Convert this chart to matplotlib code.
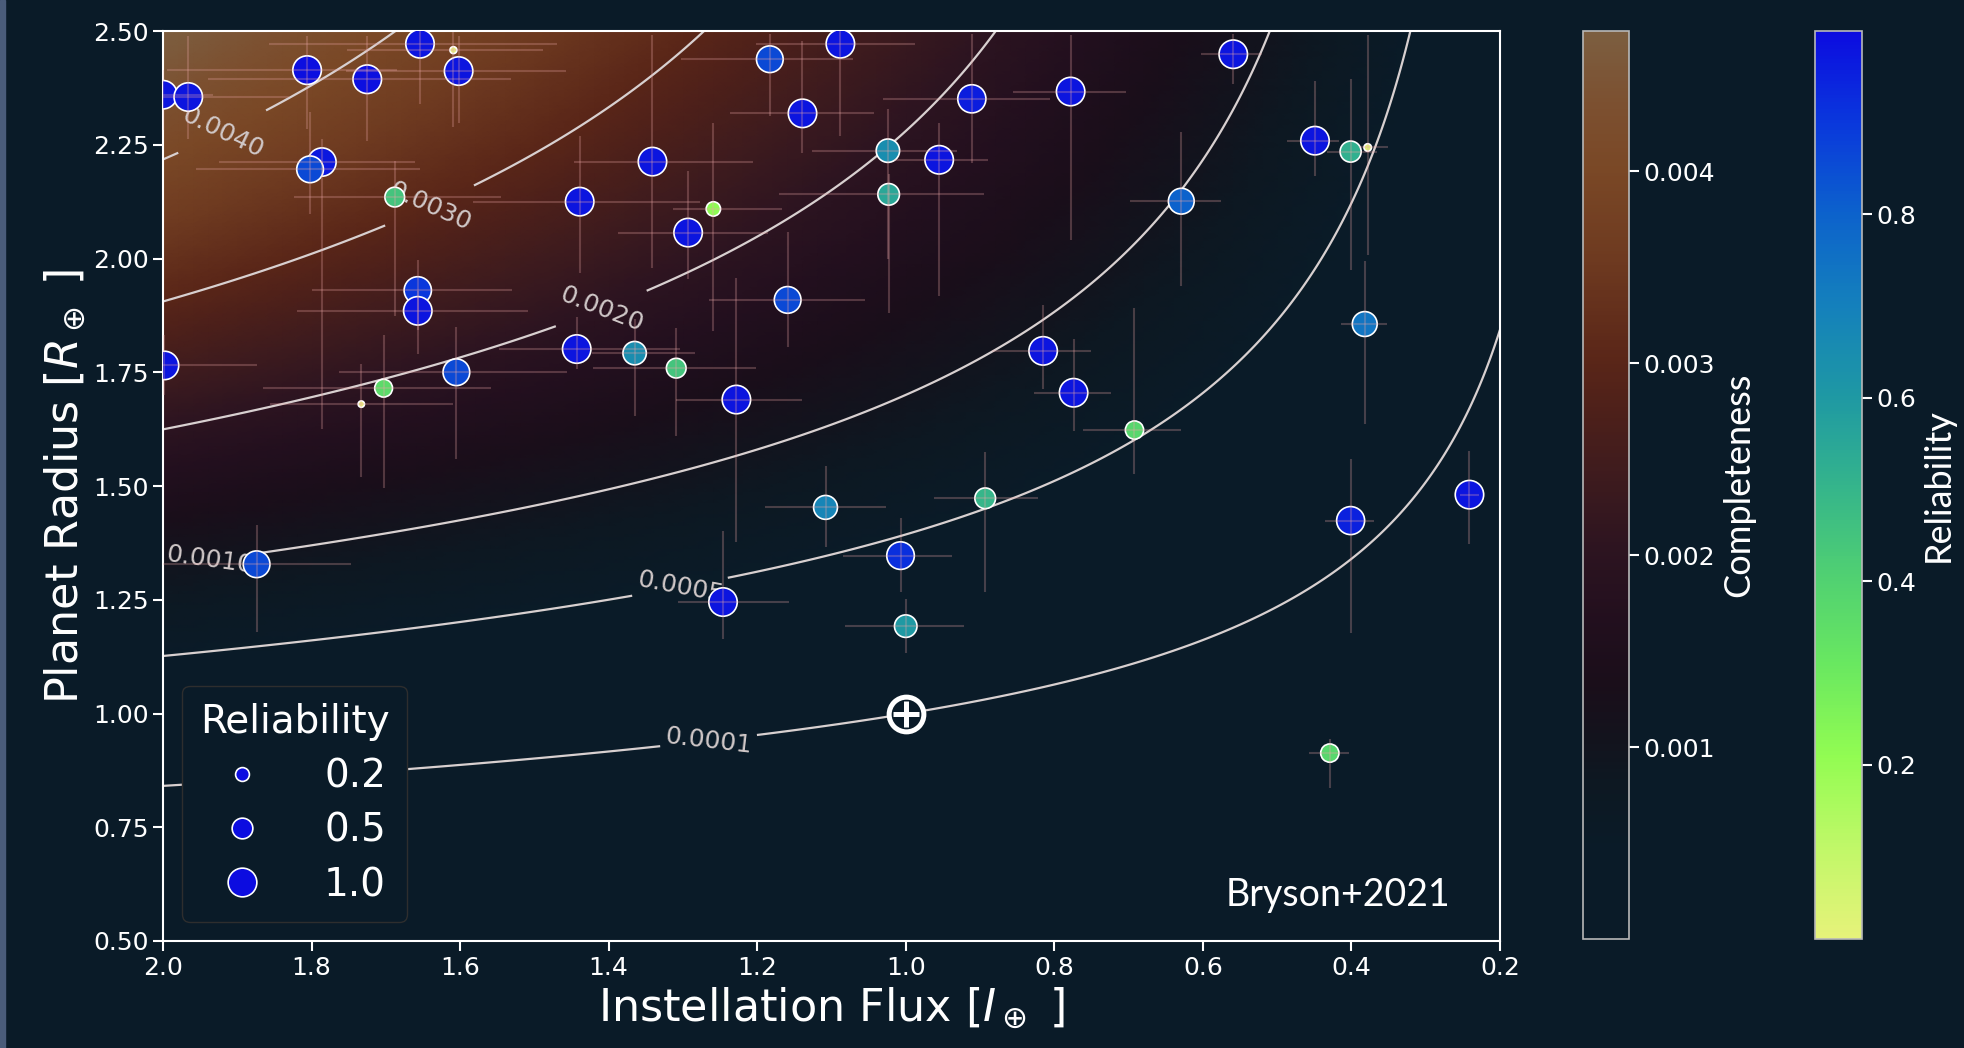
import math
import numpy as np
import matplotlib
matplotlib.use("Agg")
import matplotlib.pyplot as plt
from matplotlib.colors import LinearSegmentedColormap
from matplotlib.lines import Line2D
from matplotlib.patches import Rectangle
from matplotlib.ticker import FormatStrFormatter

BG = "#0a1b28"

# planet candidates
flux = [2.000, 1.966, 1.806, 1.725, 1.654, 1.609, 1.602, 1.786, 1.802, 1.688,
        1.439, 1.341, 1.657, 1.657, 1.998, 1.703, 1.733, 1.605, 1.443, 1.365,
        1.309, 1.183, 1.088, 1.139, 1.259, 1.293, 1.024, 0.955, 1.023, 0.911,
        0.778, 0.629, 1.159, 1.228, 0.815, 0.774, 0.692, 0.559, 0.449, 0.401,
        0.378, 0.382, 1.874, 1.108, 0.893, 1.007, 1.246, 1.000, 0.401, 0.241,
        0.429]
flux_err_lo = [0.067, 0.135, 0.121, 0.193, 0.185, 0.121, 0.145, 0.125, 0.148, 0.143,
               0.162, 0.135, 0.127, 0.149, 0.125, 0.145, 0.123, 0.149, 0.139, 0.081,
               0.108, 0.112, 0.101, 0.096, 0.093, 0.108, 0.093, 0.066, 0.128, 0.105,
               0.074, 0.054, 0.104, 0.089, 0.065, 0.050, 0.063, 0.039, 0.032, 0.035,
               0.028, 0.030, 0.127, 0.081, 0.071, 0.069, 0.089, 0.079, 0.032, 0.013,
               0.026]
flux_err_hi = [0.054, 0.054, 0.189, 0.214, 0.203, 0.143, 0.151, 0.139, 0.154, 0.136,
               0.143, 0.106, 0.143, 0.163, 0.054, 0.162, 0.123, 0.158, 0.105, 0.057,
               0.112, 0.120, 0.114, 0.098, 0.054, 0.094, 0.102, 0.061, 0.147, 0.119,
               0.078, 0.069, 0.106, 0.081, 0.069, 0.053, 0.069, 0.044, 0.038, 0.032,
               0.012, 0.032, 0.129, 0.081, 0.069, 0.077, 0.061, 0.082, 0.035, 0.013,
               0.028]
radius = [2.360, 2.355, 2.414, 2.394, 2.472, 2.458, 2.412, 2.212, 2.196, 2.135,
          2.125, 2.213, 1.930, 1.885, 1.765, 1.715, 1.680, 1.750, 1.801, 1.792,
          1.759, 2.438, 2.472, 2.319, 2.109, 2.057, 2.237, 2.217, 2.141, 2.351,
          2.367, 2.126, 1.909, 1.690, 1.797, 1.705, 1.623, 2.449, 2.259, 2.235,
          2.244, 1.856, 1.328, 1.453, 1.473, 1.347, 1.245, 1.192, 1.424, 1.481,
          0.913]
radius_err_lo = [0.077, 0.092, 0.130, 0.136, 0.132, 0.169, 0.114, 0.586, 0.099, 0.261,
                 0.156, 0.233, 0.088, 0.094, 0.066, 0.220, 0.160, 0.191, 0.044, 0.138,
                 0.149, 0.125, 0.202, 0.086, 0.268, 0.103, 0.237, 0.299, 0.261, 0.141,
                 0.327, 0.187, 0.103, 0.314, 0.083, 0.083, 0.097, 0.066, 0.077, 0.261,
                 0.237, 0.220, 0.149, 0.086, 0.206, 0.079, 0.081, 0.059, 0.246, 0.108,
                 0.077]
radius_err_hi = [0.055, 0.134, 0.075, 0.094, 0.044, 0.040, 0.077, 0.050, 0.125, 0.079,
                 0.145, 0.279, 0.066, 0.044, 0.066, 0.116, 0.088, 0.099, 0.070, 0.075,
                 0.088, 0.055, 0.044, 0.158, 0.189, 0.136, 0.092, 0.081, 0.044, 0.143,
                 0.125, 0.151, 0.149, 0.268, 0.101, 0.119, 0.268, 0.044, 0.132, 0.160,
                 0.248, 0.138, 0.086, 0.092, 0.101, 0.083, 0.156, 0.059, 0.136, 0.097,
                 0.031]
reliability = [0.98, 0.98, 0.99, 0.99, 0.98, 0.02, 0.98, 0.97, 0.86, 0.45,
               0.98, 0.98, 0.90, 0.98, 0.98, 0.36, 0.01, 0.86, 0.98, 0.65,
               0.45, 0.86, 0.98, 0.98, 0.22, 0.98, 0.65, 0.98, 0.55, 0.96,
               0.98, 0.80, 0.86, 0.98, 0.98, 0.98, 0.38, 0.98, 0.98, 0.52,
               0.03, 0.74, 0.86, 0.68, 0.50, 0.92, 0.98, 0.60, 0.95, 0.98,
               0.38]

earth_flux, earth_radius = 1.0, 1.0

legend_rel = [0.2, 0.5, 1.0]
contour_levels = [0.0001, 0.0005, 0.0010, 0.0020, 0.0030, 0.0040]
label_spots = [(1.266, 0.948), (1.304, 1.279), (1.937, 1.336),
               (1.402, 1.857), (1.636, 2.098), (1.926, 2.298)]

# detection-efficiency model (parameters tuned to the plotted contours)
amp, flux_pow, flux_cut = 0.0037, 0.85, 0.297
mu0, mu_slope, sigma = 0.764, 0.10, 0.40
erf = np.vectorize(math.erf)


def completeness(s, r):
    scale = amp * s ** flux_pow * (1.0 - np.exp(-s / flux_cut))
    z = (np.log(r) - mu0 + mu_slope * np.log(s)) / sigma
    return scale * 0.5 * (1.0 + erf(z / math.sqrt(2.0)))


comp_cmap = LinearSegmentedColormap.from_list("comp", [
    (0.00, "#0a1b28"), (0.10, "#0a1b28"), (0.17, "#0d1822"), (0.22, "#13131d"),
    (0.28, "#1a0e1a"), (0.35, "#220f1e"), (0.43, "#2d1420"), (0.51, "#3e1b1e"),
    (0.58, "#4d201a"), (0.64, "#5a2618"), (0.75, "#6e3a20"), (0.85, "#7a4826"),
    (0.92, "#7c5030"), (1.00, "#7c5e40")])
rel_cmap = LinearSegmentedColormap.from_list("rel", [
    (0.0, "#e6f27a"), (0.1, "#c0f868"), (0.2, "#92fc52"), (0.3, "#6ae860"),
    (0.4, "#50d072"), (0.5, "#34b48c"), (0.6, "#1e98a4"), (0.7, "#1480bc"),
    (0.8, "#0c62cc"), (0.9, "#0a38dc"), (1.0, "#0c0ce0")])

fig = plt.figure(figsize=(19.64, 10.48), dpi=100, facecolor=BG)
fig.patches.append(Rectangle((0, 0), 5 / 1964, 1, transform=fig.transFigure,
                             color="#4a5c7a", zorder=0))
ax = fig.add_axes([0.0830, 0.1021, 0.6807, 0.8683], facecolor=BG)

# completeness background and contours
sg, rg = np.meshgrid(np.linspace(0.2, 2.0, 91), np.linspace(0.5, 2.5, 81))
comp = completeness(sg, rg)
mesh = ax.pcolormesh(sg, rg, comp, cmap=comp_cmap, shading="gouraud",
                     vmin=0.0, vmax=comp.max(), zorder=0)

sf, rf = np.meshgrid(np.linspace(0.2, 2.0, 361), np.linspace(0.5, 2.5, 301))
cs = ax.contour(sf, rf, completeness(sf, rf), levels=contour_levels,
                colors="#d8d0d0", linewidths=1.6, zorder=2)
ax.clabel(cs, fmt="%.4f", manual=label_spots, inline=True, fontsize=18,
          colors="#d0c8c8")

# planets
sizes = [17 + 410 * r for r in reliability]
sc = ax.scatter(flux, radius, c=reliability, s=sizes, cmap=rel_cmap,
                vmin=0.01, vmax=1.0, edgecolors="white", linewidths=1.2, zorder=4)
ax.errorbar(flux, radius, xerr=[flux_err_lo, flux_err_hi],
            yerr=[radius_err_lo, radius_err_hi], fmt="none", ecolor="#eaa6a6",
            elinewidth=1.5, alpha=0.27, capsize=0, zorder=5)

# Earth
ax.plot(earth_flux, earth_radius, "o", ms=25, mfc=BG, mec="white", mew=3.6, zorder=6)
ax.plot(earth_flux, earth_radius, "+", ms=19, mec="white", mew=3.6, zorder=7)

ax.set_xlim(2.0, 0.2)
ax.set_ylim(0.5, 2.5)
ax.set_xticks(np.arange(2.0, 0.19, -0.2))
ax.set_yticks(np.arange(0.5, 2.51, 0.25))
ax.xaxis.set_major_formatter(FormatStrFormatter("%.1f"))
ax.yaxis.set_major_formatter(FormatStrFormatter("%.2f"))
ax.tick_params(colors="white", labelsize=18, length=7, width=1.5)
for sp in ax.spines.values():
    sp.set_color("white")
    sp.set_linewidth(1.5)
ax.set_xlabel(r"Instellation Flux [$I_\oplus$ ]", color="white", fontsize=32, labelpad=4)
ax.set_ylabel(r"Planet Radius [$R_\oplus$ ]", color="white", fontsize=32, labelpad=4)

ax.text(0.963, 0.038, "Bryson+2021", transform=ax.transAxes, ha="right",
        va="baseline", color="white", fontsize=27, family="Lato", zorder=8)

handles = [Line2D([], [], ls="none", marker="o", ms=math.sqrt(17 + 410 * r),
                  mfc="#0c0ce0", mec="white", mew=1.2) for r in legend_rel]
leg = ax.legend(handles, [f"{r:.1f}" for r in legend_rel], title="Reliability",
                loc="lower left", fontsize=28, title_fontsize=28,
                labelcolor="white", facecolor=BG, edgecolor="#2e2e2e",
                framealpha=1.0, handletextpad=1.1, borderpad=0.45,
                labelspacing=0.42)
leg.get_title().set_color("white")
leg.set_zorder(9)

# colorbars
cax1 = fig.add_axes([0.8060, 0.1040, 0.0234, 0.8664])
cb1 = fig.colorbar(mesh, cax=cax1)
cb1.set_ticks([0.001, 0.002, 0.003, 0.004])
cb1.ax.yaxis.set_major_formatter(FormatStrFormatter("%.3f"))
cb1.set_label("Completeness", color="white", fontsize=26, family="Lato", labelpad=5)

cax2 = fig.add_axes([0.9241, 0.1040, 0.0239, 0.8664])
cb2 = fig.colorbar(sc, cax=cax2)
cb2.set_ticks([0.2, 0.4, 0.6, 0.8])
cb2.set_label("Reliability", color="white", fontsize=26, family="Lato", labelpad=4)

for cb in (cb1, cb2):
    cb.outline.set_edgecolor("#b8b8b8")
    cb.outline.set_linewidth(1.2)
    cb.ax.tick_params(colors="white", labelsize=18, length=7, width=1.5)

fig.savefig("out.png", dpi=100, facecolor=BG)
